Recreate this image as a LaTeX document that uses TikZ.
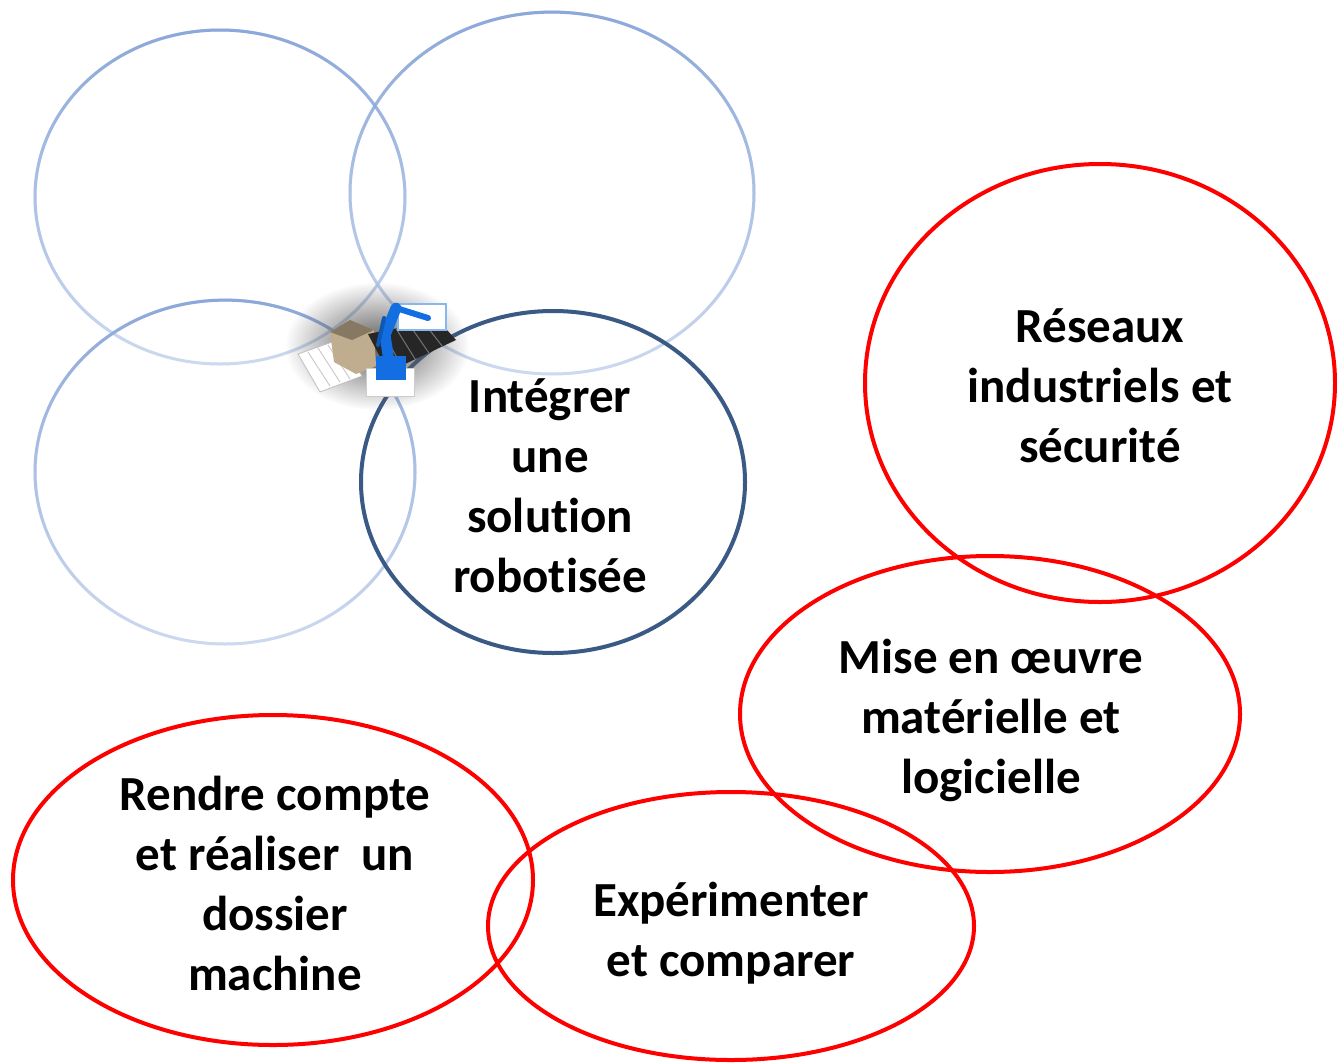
\documentclass[tikz,border=0pt]{standalone}
\usepackage{fontspec}
\setmainfont{Carlito}[Ligatures=NoCommon]
\usetikzlibrary{shapes.geometric,fadings,calc}
\definecolor{lblue}{RGB}{140,168,218}
\definecolor{llblue}{RGB}{205,218,240}
\definecolor{dblue}{RGB}{58,90,133}
\definecolor{boxtan}{RGB}{192,172,142}
\definecolor{robotblue}{RGB}{18,110,225}
\tikzfading[name=blobfade, inner color=transparent!0, outer color=transparent!100]
\tikzset{
  lab/.style={font=\bfseries\fontsize{49}{60}\selectfont, align=center, text=black, inner sep=0pt},
  ring/.style={ellipse, inner sep=0pt, line width=4pt},
  pale/.style={ring, draw=llblue, line width=3pt},
  paletop/.style={draw=lblue, line width=3pt, path fading=south},
  redring/.style={ring, draw=red},
}
\begin{document}
\begin{tikzpicture}[x=1pt,y=-1pt]
\useasboundingbox (0,0) rectangle (1337,1062);
\fill[white] (0,0) rectangle (1337,1062);

% pale blue rings
\node[pale, minimum width=370pt, minimum height=334pt] (e1) at (220,197) {};
\node[pale, minimum width=404pt, minimum height=362pt] (e2) at (552,193) {};
\node[pale, minimum width=380pt, minimum height=344pt] (e3) at (225,472) {};
\draw[paletop] (e1.center) ellipse (185 and 167);
\draw[paletop] (e2.center) ellipse (202 and 181);
\draw[paletop] (e3.center) ellipse (190 and 172);

% dark blue ring
\node[ring, draw=dblue, minimum width=384pt, minimum height=342pt] (e4) at (553,482) {};
\node[lab] (t4) at ($(e4.center)+(-3,4)$) {Intégrer\\une\\solution\\robotisée};

% robot picture (sketch)
\fill[black!65, path fading=blobfade] (377,346) ellipse (92 and 64);
\fill[white, draw=black!25, line width=0.8pt] (298,354) -- (338,340) -- (362,376) -- (320,392) -- cycle;
\draw[black!20, line width=1pt] (308,352) -- (330,386) (318,348) -- (340,382) (328,345) -- (350,379);
\fill[boxtan] (330,332) -- (350,320) -- (374,330) -- (376,366) -- (356,374) -- (334,362) -- cycle;
\fill[boxtan!70!black] (350,320) -- (374,330) -- (352,340) -- (330,332) -- cycle;
\fill[black!85] (368,334) -- (438,320) -- (456,340) -- (388,372) -- cycle;
\foreach \t in {0.2,0.4,0.6,0.8}
  \draw[black!55, line width=1pt] ($(368,334)!\t!(438,320)$) -- ($(388,372)!\t!(456,340)$);
\fill[white, draw=black!20, line width=0.8pt] (366,368) rectangle (414,396);
\fill[white, draw=robotblue!50, line width=1.5pt] (398,304) rectangle (446,330);
\draw[robotblue, line width=11pt, line cap=round] (390,368) -- (385,335) -- (396,308);
\draw[robotblue!80!black, line width=4pt, line cap=round] (378,345) -- (384,318);
\draw[robotblue, line width=6pt, line cap=round] (396,308) -- (428,318);
\fill[robotblue] (376,356) rectangle (406,380);

% red rings
\node[redring, minimum width=470pt, minimum height=438pt] (r1) at (1100,383) {};
\node[redring, minimum width=500pt, minimum height=316pt] (r2) at (990,714) {};
\node[redring, minimum width=520pt, minimum height=330pt] (r3) at (273,880) {};
\node[redring, minimum width=486pt, minimum height=268pt] (r4) at (731,926) {};
\node[lab] (t1) at ($(r1.center)+(0,3)$) {Réseaux\\industriels et\\sécurité};
\node[lab] (t2) at ($(r2.center)+(1,6)$) {Mise en œuvre\\matérielle et\\logicielle};
\node[lab] (t3) at ($(r3.center)+(2,3)$) {Rendre compte\\et réaliser\ \ un\\dossier\\machine};
\node[lab] (t4b) at ($(r4.center)+(0,7)$) {Expérimenter\\et comparer};
\end{tikzpicture}
\end{document}
